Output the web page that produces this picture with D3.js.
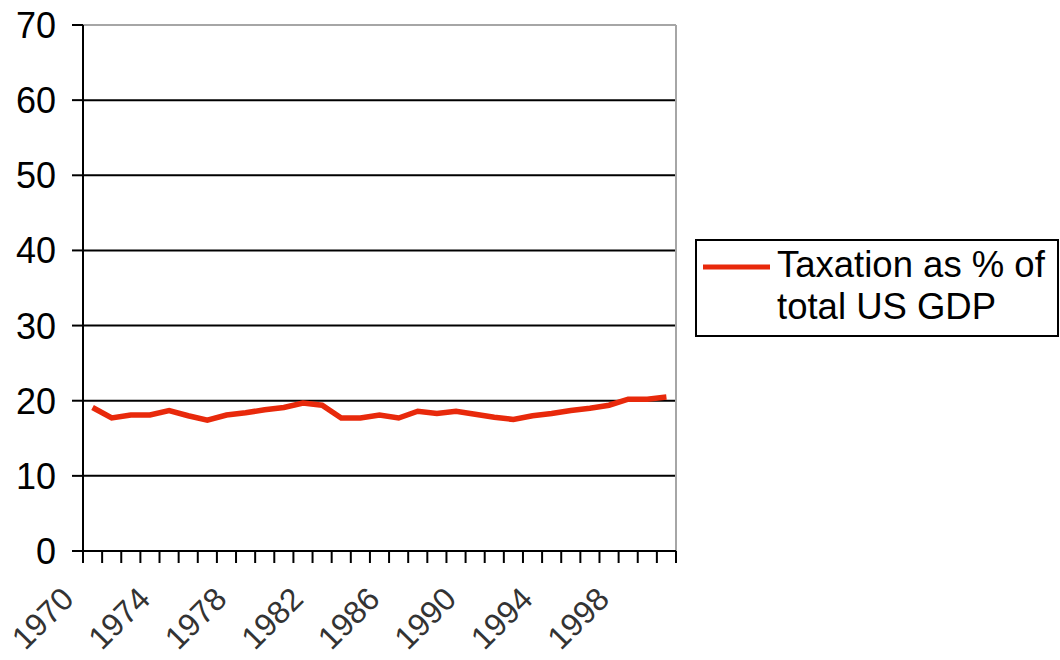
<!DOCTYPE html>
<html>
<head>
<meta charset="utf-8">
<script src="https://cdn.jsdelivr.net/npm/d3@7"></script>
<style>
  html, body { margin: 0; padding: 0; background: #fff; }
  svg { display: block; font-family: "Liberation Sans", Arial, sans-serif; }
</style>
</head>
<body>
<svg id="chart" width="1060" height="660"></svg>
<script>
// Tax revenue as a share of US GDP, 1970-2000
const years = [1970, 1971, 1972, 1973, 1974, 1975, 1976, 1977, 1978, 1979,
               1980, 1981, 1982, 1983, 1984, 1985, 1986, 1987, 1988, 1989,
               1990, 1991, 1992, 1993, 1994, 1995, 1996, 1997, 1998, 1999, 2000];
const taxShare = [19.1, 17.7, 18.1, 18.1, 18.7, 18.0, 17.4, 18.1, 18.4, 18.8,
                  19.1, 19.7, 19.4, 17.7, 17.7, 18.1, 17.7, 18.6, 18.3, 18.6,
                  18.2, 17.8, 17.5, 18.0, 18.3, 18.7, 19.0, 19.4, 20.2, 20.2, 20.5];
const yTicks = [0, 10, 20, 30, 40, 50, 60, 70];
const xTickLabels = [1970, 1974, 1978, 1982, 1986, 1990, 1994, 1998];
const seriesName = ["Taxation as % of", "total US GDP"];

const svg = d3.select("#chart");
const plotLeft = 83, plotRight = 676, plotTop = 25, plotBottom = 551;
const lineColor = "#e8290b";

const x = d3.scaleBand().domain(years).range([plotLeft, plotRight]).padding(0);
const y = d3.scaleLinear().domain([0, 70]).range([plotBottom, plotTop]);
const cx = d => x(d) + x.bandwidth() / 2;

// horizontal gridlines
svg.append("g").selectAll("line")
  .data(yTicks.filter(v => v > 0 && v < 70))
  .join("line")
  .attr("x1", plotLeft).attr("x2", plotRight)
  .attr("y1", d => y(d)).attr("y2", d => y(d))
  .attr("stroke", "#000").attr("stroke-width", 2);

// plot frame: grey top and right edges
svg.append("line").attr("x1", plotLeft).attr("x2", plotRight)
  .attr("y1", y(70)).attr("y2", y(70))
  .attr("stroke", "#a6a6a6").attr("stroke-width", 2);
svg.append("line").attr("x1", plotRight).attr("x2", plotRight)
  .attr("y1", y(70)).attr("y2", y(0))
  .attr("stroke", "#a6a6a6").attr("stroke-width", 2);

// y axis
svg.append("line").attr("x1", plotLeft).attr("x2", plotLeft)
  .attr("y1", y(70)).attr("y2", y(0))
  .attr("stroke", "#000").attr("stroke-width", 2);
svg.append("g").selectAll("line")
  .data(yTicks).join("line")
  .attr("x1", plotLeft - 11).attr("x2", plotLeft)
  .attr("y1", d => y(d)).attr("y2", d => y(d))
  .attr("stroke", "#000").attr("stroke-width", 2);
svg.append("g").selectAll("text")
  .data(yTicks).join("text")
  .attr("x", 56).attr("y", d => y(d))
  .attr("dy", "0.36em")
  .attr("text-anchor", "end")
  .attr("font-size", 36)
  .attr("fill", "#000")
  .text(d => d);

// x axis
svg.append("line").attr("x1", plotLeft).attr("x2", plotRight)
  .attr("y1", y(0)).attr("y2", y(0))
  .attr("stroke", "#000").attr("stroke-width", 2);
const edges = years.map(d => x(d)).concat([x(years[years.length - 1]) + x.bandwidth()]);
svg.append("g").selectAll("line")
  .data(edges).join("line")
  .attr("x1", d => d).attr("x2", d => d)
  .attr("y1", y(0)).attr("y2", y(0) + 12)
  .attr("stroke", "#000").attr("stroke-width", 2);
svg.append("g").selectAll("text")
  .data(xTickLabels).join("text")
  .attr("transform", d => `translate(${cx(d) - 17},${y(0) + 50}) rotate(-45)`)
  .attr("text-anchor", "end")
  .attr("font-size", 32)
  .attr("fill", "#333")
  .text(d => d);

// series line
const line = d3.line()
  .x((d, i) => cx(years[i]))
  .y(d => y(d));
svg.append("path")
  .datum(taxShare)
  .attr("d", line)
  .attr("fill", "none")
  .attr("stroke", lineColor)
  .attr("stroke-width", 5.5)
  .attr("stroke-linejoin", "miter");

// legend
const lg = svg.append("g");
lg.append("rect")
  .attr("x", 696).attr("y", 240).attr("width", 362).attr("height", 96)
  .attr("fill", "#fff").attr("stroke", "#000").attr("stroke-width", 2);
lg.append("line")
  .attr("x1", 703).attr("x2", 770).attr("y1", 267).attr("y2", 267)
  .attr("stroke", lineColor).attr("stroke-width", 5);
lg.selectAll("text")
  .data(seriesName).join("text")
  .attr("x", 777).attr("y", (d, i) => 277 + i * 42)
  .attr("font-size", 36.5)
  .attr("fill", "#000")
  .text(d => d);
</script>
</body>
</html>
